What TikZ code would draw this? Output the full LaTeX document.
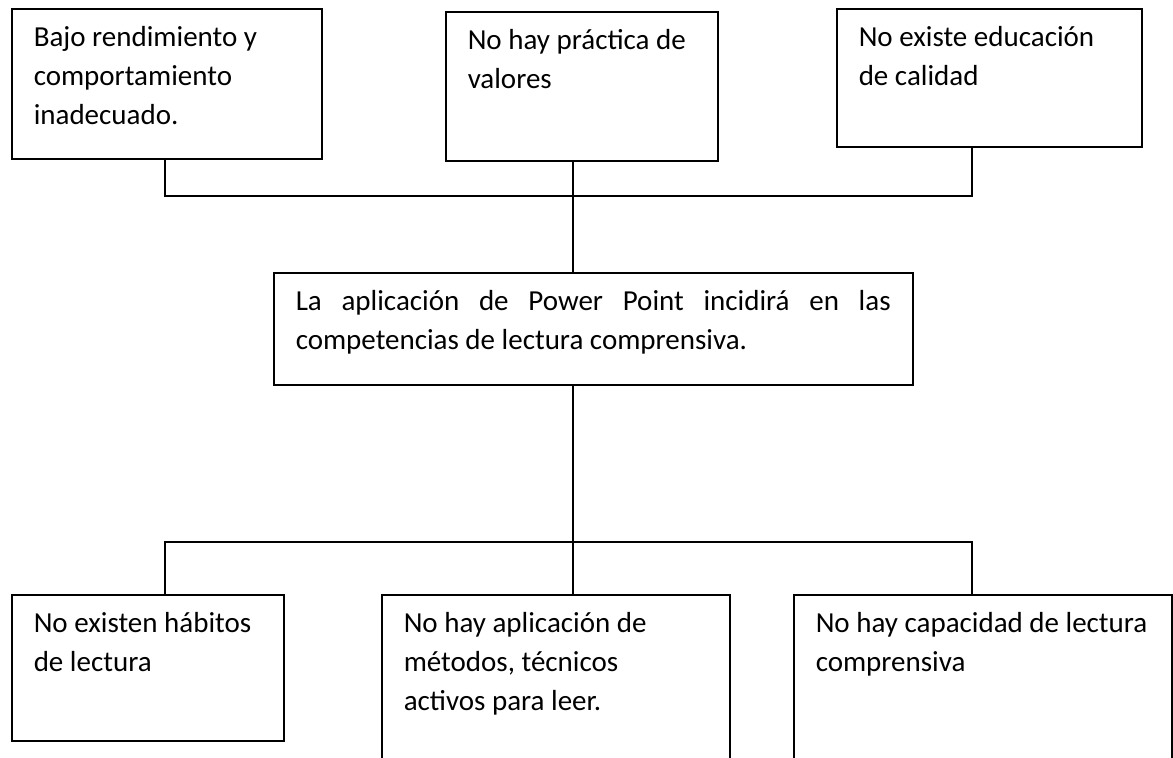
\documentclass[tikz,border=0pt]{standalone}
\usepackage{fontspec}
\setmainfont{Carlito}
\usepackage{tikz}
\newcommand{\boxtext}[4][\raggedright]{\parbox[t][#3][t]{#2}{#1\rule{0pt}{19pt}#4}}
\tikzset{
  causebox/.style={draw, line width=.75pt, inner sep=0pt, inner xsep=11pt, anchor=north west,
    font=\fontsize{14.5}{19.5}\selectfont},
  conn/.style={line width=.75pt}
}

\begin{document}
\begin{tikzpicture}[x=.5pt, y=-.5pt]
  \clip (0,0) rectangle (1173,757);
  % top row
  \node[causebox] (bajo) at (11,8) {\boxtext{133pt}{75pt}{Bajo rendimiento y\\comportamiento\\inadecuado.}};
  \node[causebox] (valores) at (445,11) {\boxtext{114pt}{74.5pt}{No hay práctica de\\valores}};
  \node[causebox] (calidad) at (836,8) {\boxtext{130.5pt}{69pt}{No existe educación\\de calidad}};
  % middle
  \node[causebox] (power) at (273,272) {\boxtext[\relax]{297.5pt}{56pt}{La aplicación de Power Point incidirá en las\linebreak competencias de lectura comprensiva.}};
  % bottom row
  \node[causebox] (habitos) at (11,594) {\boxtext{114pt}{73pt}{No existen hábitos\\de lectura}};
  \node[causebox] (metodos) at (381,594) {\boxtext{152pt}{100pt}{No hay aplicación de\\métodos, técnicos\\activos para leer.}};
  \node[causebox] (capacidad) at (793,594) {\boxtext{167pt}{100pt}{No hay capacidad de lectura\\comprensiva}};
  % junctions
  \coordinate (tl) at (165,196);
  \coordinate (tr) at (972,196);
  \coordinate (tc) at (573,196);
  \coordinate (bl) at (165,542);
  \coordinate (br) at (972,542);
  \coordinate (bc) at (573,542);
  \draw[conn] (bajo.south -| tl) -- (tl) -- (tr) -- (calidad.south -| tr);
  \draw[conn] (valores.south -| tc) -- (power.north -| tc);
  \draw[conn] (power.south -| bc) -- (metodos.north -| bc);
  \draw[conn] (habitos.north -| bl) -- (bl) -- (br) -- (capacidad.north -| br);
\end{tikzpicture}
\end{document}
